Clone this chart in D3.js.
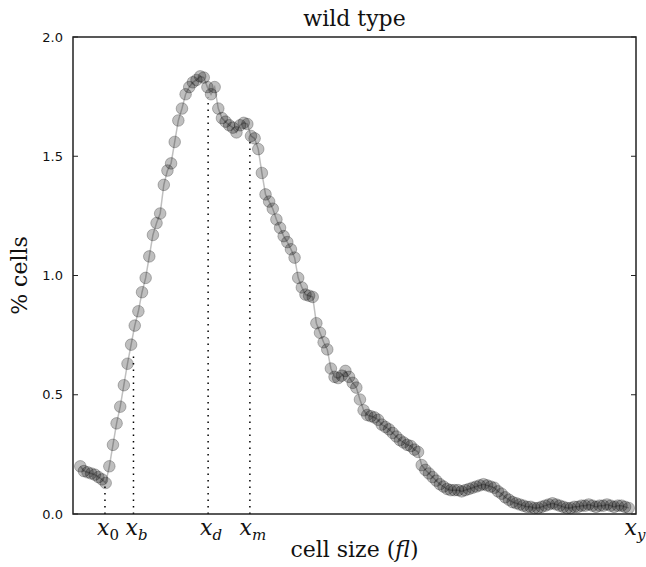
<!DOCTYPE html>
<html>
<head>
<meta charset="utf-8">
<script src="https://cdn.jsdelivr.net/npm/d3@7"></script>
<style>
  body { margin: 0; background: #fff; }
  .tick-label { font-family: "DejaVu Sans", sans-serif; font-size: 13px; fill: #111; }
  .serif { font-family: "DejaVu Serif", serif; fill: #111; }
</style>
</head>
<body>
<div id="chart"></div>
<script>
// bin position along the size axis (arbitrary units, no numeric ticks in the original)
const cellSize = [
  2, 3, 4, 5, 6, 7, 8, 9, 10, 11, 12, 13, 14, 15, 16, 17, 18, 19, 20, 21,
  22, 23, 24, 25, 26, 27, 28, 29, 30, 31, 32, 33, 34, 35, 36, 37, 38, 39, 40, 41,
  42, 43, 44, 45, 46, 47, 48, 49, 50, 51, 52, 53, 54, 55, 56, 57, 58, 59, 60, 61,
  62, 63, 64, 65, 66, 67, 68, 69, 70, 71, 72, 73, 74, 75, 76, 77, 78, 79, 80, 81,
  82, 83, 84, 85, 86, 87, 88, 89, 90, 91, 92, 93, 94, 95, 96, 97, 98, 99, 100, 101,
  102, 103, 104, 105, 106, 107, 108, 109, 110, 111, 112, 113, 114, 115, 116, 117, 118, 119, 120, 121,
  122, 123, 124, 125, 126, 127, 128, 129, 130, 131, 132, 133, 134, 135, 136, 137, 138, 139, 140, 141,
  142, 143, 144, 145, 146, 147, 148, 149, 150, 151, 152, 153
];

// % of cells in each bin
const percentCells = [
  0.20, 0.18, 0.175, 0.17, 0.165, 0.155, 0.145, 0.13, 0.20, 0.29,
  0.38, 0.45, 0.54, 0.63, 0.71, 0.79, 0.85, 0.93, 0.99, 1.08,
  1.17, 1.22, 1.26, 1.38, 1.44, 1.47, 1.56, 1.65, 1.70, 1.76,
  1.79, 1.81, 1.82, 1.835, 1.83, 1.79, 1.76, 1.79, 1.70, 1.66,
  1.645, 1.63, 1.62, 1.60, 1.63, 1.64, 1.635, 1.585, 1.575, 1.53,
  1.43, 1.34, 1.31, 1.28, 1.235, 1.20, 1.165, 1.14, 1.11, 1.075,
  0.99, 0.95, 0.92, 0.915, 0.91, 0.80, 0.76, 0.72, 0.69, 0.61,
  0.575, 0.57, 0.58, 0.60, 0.575, 0.55, 0.53, 0.48, 0.435, 0.415,
  0.41, 0.405, 0.395, 0.375, 0.365, 0.355, 0.34, 0.325, 0.31, 0.30,
  0.29, 0.285, 0.27, 0.26, 0.205, 0.185, 0.17, 0.155, 0.14, 0.125,
  0.115, 0.105, 0.10, 0.10, 0.10, 0.095, 0.10, 0.105, 0.11, 0.115,
  0.12, 0.125, 0.12, 0.115, 0.11, 0.095, 0.085, 0.07, 0.06, 0.05,
  0.045, 0.04, 0.035, 0.03, 0.03, 0.025, 0.025, 0.03, 0.035, 0.04,
  0.045, 0.04, 0.035, 0.03, 0.025, 0.025, 0.03, 0.03, 0.035, 0.035,
  0.04, 0.035, 0.03, 0.035, 0.035, 0.04, 0.035, 0.03, 0.035, 0.035,
  0.03, 0.025
];

// named sizes marked under the axis
const markerSubs = ['0', 'b', 'd', 'm', 'y'];
const markerSizes = [8.8, 16.65, 37.2, 48.7, 155];
const markerTops = [0.13, 0.67, 1.745, 1.56, null];

const yTicks = [0, 0.5, 1.0, 1.5, 2.0];

class SizeHistogram {

  constructor(_config) {
    this.config = {
      parentElement: _config.parentElement,
      containerWidth: _config.containerWidth,
      containerHeight: _config.containerHeight,
      margin: {top: 37, right: 10, bottom: 53, left: 73},
      radius: 5.8
    };
    this.data = cellSize.map((s, i) => ({size: s, pct: percentCells[i]}));
    this.initVis();
  }

  initVis() {
    let vis = this;

    vis.width = vis.config.containerWidth - vis.config.margin.left - vis.config.margin.right;
    vis.height = vis.config.containerHeight - vis.config.margin.top - vis.config.margin.bottom;

    vis.xScale = d3.scaleLinear()
        .domain([0, 155])
        .range([0, vis.width]);

    vis.yScale = d3.scaleLinear()
        .domain([0, 2])
        .range([vis.height, 0]);

    vis.svg = d3.select(vis.config.parentElement).append('svg')
        .attr('width', vis.config.containerWidth)
        .attr('height', vis.config.containerHeight);

    vis.chart = vis.svg.append('g')
        .attr('transform', `translate(${vis.config.margin.left},${vis.config.margin.top})`);

    // title
    vis.svg.append('text')
        .attr('class', 'serif')
        .attr('x', vis.config.margin.left + vis.width * 0.5)
        .attr('y', 26)
        .attr('text-anchor', 'middle')
        .style('font-size', '22px')
        .text('wild type');

    // axis labels
    let xl = vis.svg.append('text')
        .attr('class', 'serif')
        .attr('x', vis.config.margin.left + vis.width * 0.5)
        .attr('y', vis.config.margin.top + vis.height + 43)
        .attr('text-anchor', 'middle')
        .style('font-size', '22px');
    xl.append('tspan').text('cell size (');
    xl.append('tspan').style('font-style', 'italic').text('fl');
    xl.append('tspan').text(')');

    vis.svg.append('text')
        .attr('class', 'serif')
        .attr('transform', `translate(27, ${vis.config.margin.top + vis.height / 2}) rotate(-90)`)
        .attr('text-anchor', 'middle')
        .style('font-size', '22px')
        .text('% cells');

    vis.renderVis();
  }

  renderVis() {
    let vis = this;

    // dotted guides
    let guides = markerSizes.map((s, i) => ({s: s, top: markerTops[i]})).filter(d => d.top !== null);
    vis.chart.selectAll('.guide')
        .data(guides)
        .join('line')
        .attr('class', 'guide')
        .attr('x1', d => vis.xScale(d.s))
        .attr('x2', d => vis.xScale(d.s))
        .attr('y1', vis.height)
        .attr('y2', d => vis.yScale(d.top))
        .attr('stroke', '#000')
        .attr('stroke-width', 1.5)
        .attr('stroke-dasharray', '1.5,5');

    // connecting line
    let line = d3.line()
        .x(d => vis.xScale(d.size))
        .y(d => vis.yScale(d.pct));

    vis.chart.append('path')
        .datum(vis.data)
        .attr('d', line)
        .attr('fill', 'none')
        .attr('stroke', '#000')
        .attr('stroke-opacity', 0.25)
        .attr('stroke-width', 1.5);

    // markers
    vis.chart.selectAll('.pt')
        .data(vis.data)
        .join('circle')
        .attr('class', 'pt')
        .attr('cx', d => vis.xScale(d.size))
        .attr('cy', d => vis.yScale(d.pct))
        .attr('r', vis.config.radius)
        .attr('fill', '#000')
        .attr('fill-opacity', 0.25)
        .attr('stroke', '#000')
        .attr('stroke-opacity', 0.25)
        .attr('stroke-width', 1);

    // frame
    vis.chart.append('rect')
        .attr('width', vis.width)
        .attr('height', vis.height)
        .attr('fill', 'none')
        .attr('stroke', '#222')
        .attr('stroke-width', 1.5);

    // y ticks, inward on both sides
    vis.chart.selectAll('.ytick-l')
        .data(yTicks)
        .join('line')
        .attr('x1', 0).attr('x2', 5)
        .attr('y1', d => vis.yScale(d)).attr('y2', d => vis.yScale(d))
        .attr('stroke', '#222');
    vis.chart.selectAll('.ytick-r')
        .data(yTicks)
        .join('line')
        .attr('x1', vis.width - 5).attr('x2', vis.width)
        .attr('y1', d => vis.yScale(d)).attr('y2', d => vis.yScale(d))
        .attr('stroke', '#222');

    vis.chart.selectAll('.tick-label')
        .data(yTicks)
        .join('text')
        .attr('class', 'tick-label')
        .attr('x', -10)
        .attr('y', d => vis.yScale(d))
        .attr('dy', '0.35em')
        .attr('text-anchor', 'end')
        .text(d => d3.format('.1f')(d));

    // x marker labels (last one pulled in so it stays on the page)
    let ml = vis.chart.selectAll('.mlabel')
        .data(markerSubs.map((s, i) => ({sub: s, s: markerSizes[i]})))
        .join('text')
        .attr('class', 'mlabel serif')
        .attr('x', d => Math.min(vis.xScale(d.s) + 3, vis.width - 1))
        .attr('y', vis.height + 21)
        .attr('text-anchor', 'middle');
    ml.append('tspan')
        .style('font-style', 'italic')
        .style('font-size', '22px')
        .text('x');
    ml.append('tspan')
        .attr('dy', 5)
        .style('font-style', d => d.sub === '0' ? 'normal' : 'italic')
        .style('font-size', '15px')
        .text(d => d.sub);
  }
}

new SizeHistogram({
  parentElement: '#chart',
  containerWidth: 646,
  containerHeight: 567
});
</script>
</body>
</html>
